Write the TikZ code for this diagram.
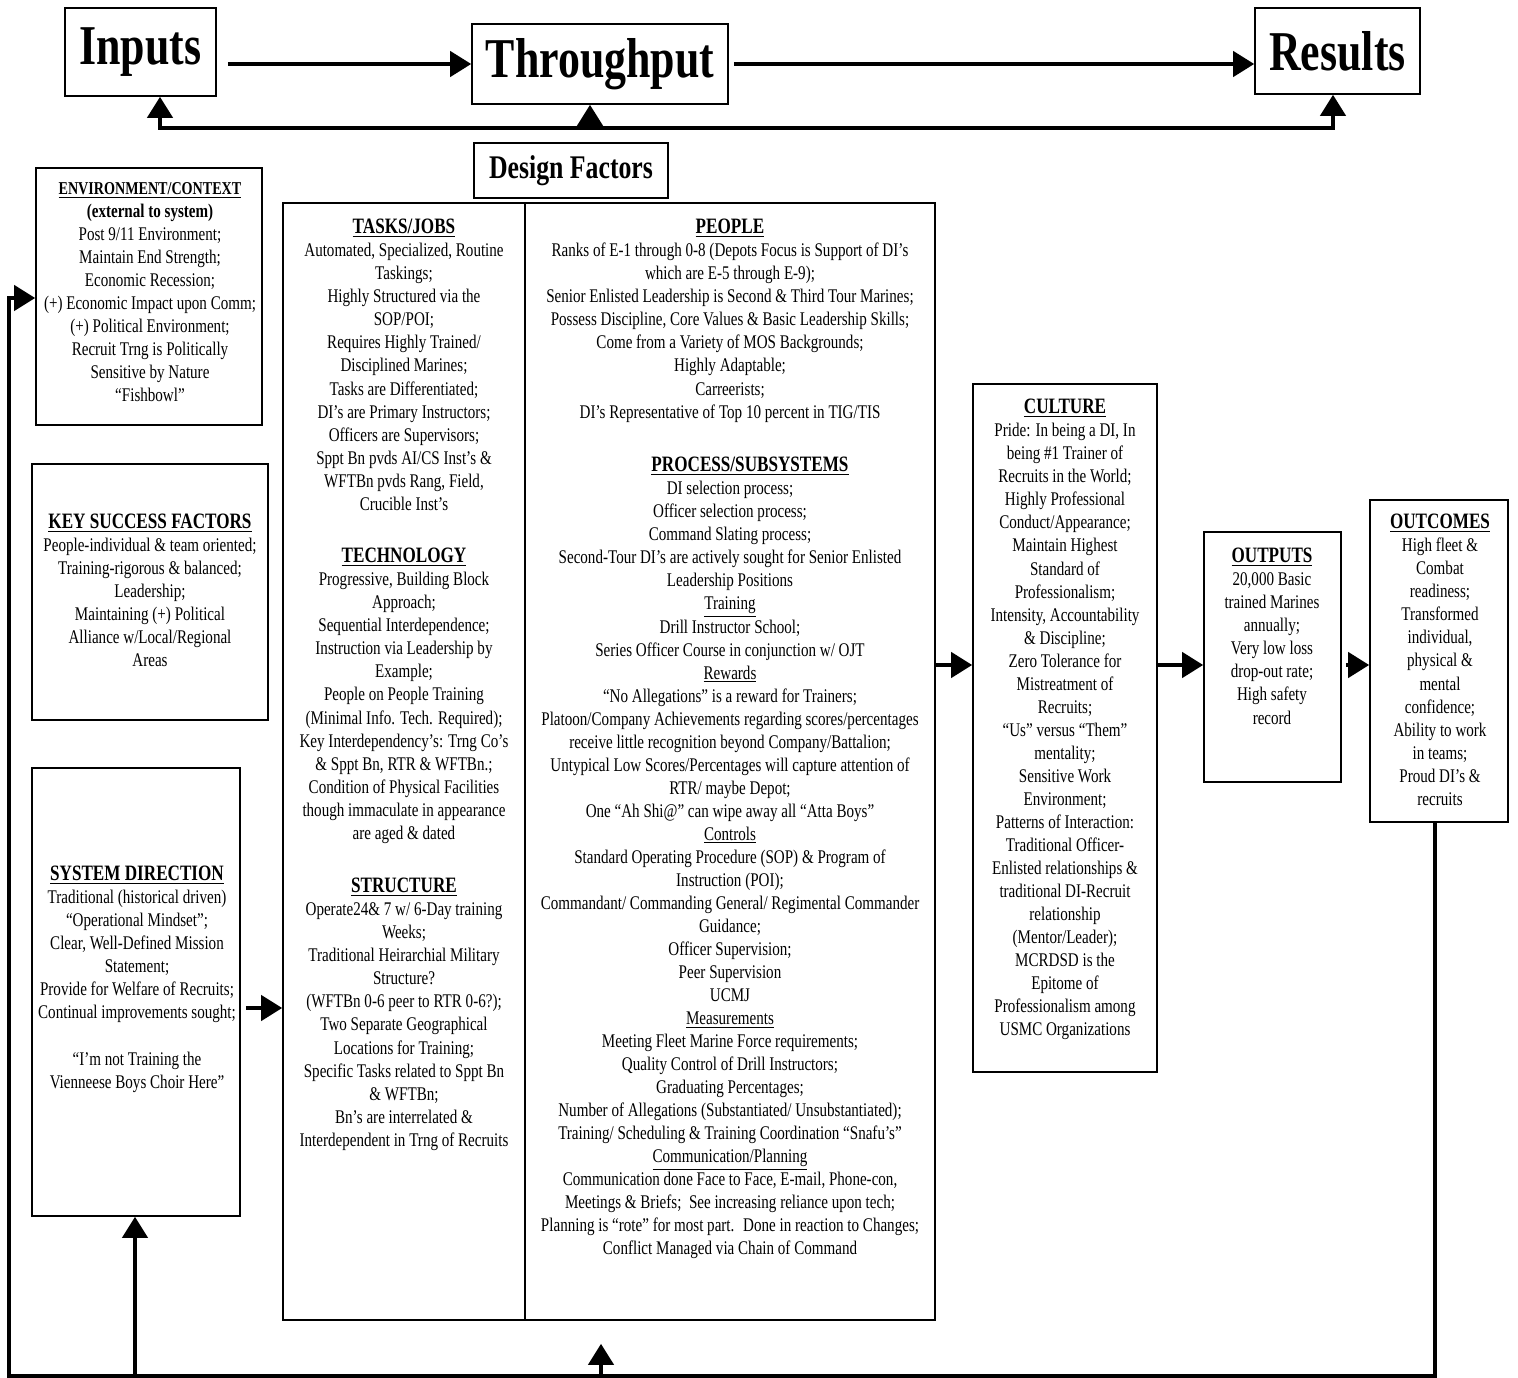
\documentclass[tikz,border=0pt]{standalone}
\usepackage{fontspec}
\setmainfont[FakeStretch=0.78]{Liberation Serif}
\usetikzlibrary{arrows.meta,fit}

\newcommand{\hd}[1]{{\fontsize{12.5}{13.1}\selectfont\bfseries\underline{#1}}}
\newcommand{\subhd}[1]{\underline{#1}}

\begin{document}
\begin{tikzpicture}[x=0.02cm,y=-0.02cm,>={Triangle[length=0.42cm,width=0.5cm]},
    frame/.style={draw,line width=0.9pt,inner sep=0pt},
    title/.style={draw,line width=0.9pt,inner sep=0pt,font=\fontsize{32}{32}\selectfont\bfseries},
    txt/.style={align=center,inner sep=0pt,anchor=north,font=\fontsize{11}{13.1}\selectfont},
    flow/.style={line width=2.3pt}]
\fill[white] (0,0) rectangle (1518,1378);
\useasboundingbox (0,0) rectangle (1518,1378);

% top row
\node[title,minimum width=3.02cm,minimum height=1.76cm] (inputs) at (140.5,52) {Inputs};
\node[title,minimum width=5.12cm,minimum height=1.6cm] (through) at (600,64) {Throughput};
\node[title,minimum width=3.3cm,minimum height=1.72cm] (results) at (1337.5,51) {Results};
\node[frame,minimum width=3.88cm,minimum height=1.1cm,font=\fontsize{18.8}{18.8}\selectfont\bfseries] (design) at (571,170.5) {Design Factors};

% boxes
\node[frame,fit={(36,168) (262,425)}] (env) {};
\node[frame,fit={(32,464) (268,720)}] (ksf) {};
\node[frame,fit={(32,768) (240,1216)}] (sysdir) {};
\node[frame,fit={(283,203) (525,1320)}] (tasks) {};
\node[frame,fit={(525,203) (935,1320)}] (people) {};
\node[frame,fit={(973,384) (1157,1072)}] (culture) {};
\node[frame,fit={(1204,532) (1341,782)}] (outputs) {};
\node[frame,fit={(1370,500) (1508,822)}] (outcomes) {};

% texts
\node[txt] (envtxt) at (150,182) {{\fontsize{10.3}{13.1}\selectfont\bfseries\underline{ENVIRONMENT/CONTEXT}}\\
    {\bfseries (external to system)}\\
    Post 9/11 Environment;\\ Maintain End Strength;\\ Economic Recession;\\
    (+) Economic Impact upon Comm;\\ (+) Political Environment;\\
    Recruit Trng is Politically\\ Sensitive by Nature\\ “Fishbowl”};
\node[txt] (ksftxt) at (150,514) {\hd{KEY SUCCESS FACTORS}\\
    People-individual \& team oriented;\\ Training-rigorous \& balanced;\\
    Leadership;\\ Maintaining (+) Political\\ Alliance w/Local/Regional\\ Areas};
\node[txt] (sysdirtxt) at (137,866) {\hd{SYSTEM DIRECTION}\\
    Traditional (historical driven)\\ “Operational Mindset”;\\
    Clear, Well-Defined Mission\\ Statement;\\ Provide for Welfare of Recruits;\\
    Continual improvements sought;\\[13.1pt]
    “I’m not Training the\\ Vienneese Boys Choir Here”};
\node[txt] (taskstxt) at (404,219) {\hd{TASKS/JOBS}\\
    Automated, Specialized, Routine\\ Taskings;\\ Highly Structured via the\\ SOP/POI;\\
    Requires Highly Trained/\\ Disciplined Marines;\\ Tasks are Differentiated;\\
    DI’s are Primary Instructors;\\ Officers are Supervisors;\\
    Sppt Bn pvds AI/CS Inst’s \&\\ WFTBn pvds Rang, Field,\\ Crucible Inst’s};
\node[txt] (techtxt) at (404,548) {\hd{TECHNOLOGY}\\
    Progressive, Building Block\\ Approach;\\ Sequential Interdependence;\\
    Instruction via Leadership by\\ Example;\\ People on People Training\\
    (Minimal Info. Tech. Required);\\ Key Interdependency’s: Trng Co’s\\
    \& Sppt Bn, RTR \& WFTBn.;\\ Condition of Physical Facilities\\
    though immaculate in appearance\\ are aged \& dated};
\node[txt] (structtxt) at (404,878) {\hd{STRUCTURE}\\
    Operate24\& 7 w/ 6-Day training\\ Weeks;\\ Traditional Heirarchial Military\\
    Structure?\\ (WFTBn 0-6 peer to RTR 0-6?);\\ Two Separate Geographical\\
    Locations for Training;\\ Specific Tasks related to Sppt Bn\\ \& WFTBn;\\
    Bn’s are interrelated \&\\ Interdependent in Trng of Recruits};
\node[txt] (peopletxt) at (730,219) {\hd{PEOPLE}\\
    Ranks of E-1 through 0-8 (Depots Focus is Support of DI’s\\
    which are E-5 through E-9);\\
    Senior Enlisted Leadership is Second \& Third Tour Marines;\\
    Possess Discipline, Core Values \& Basic Leadership Skills;\\
    Come from a Variety of MOS Backgrounds;\\ Highly Adaptable;\\ Carreerists;\\
    DI’s Representative of Top 10 percent in TIG/TIS};
\node[txt] (proctxt) at (730,457) {\hspace*{0.8cm}\hd{PROCESS/SUBSYSTEMS}\\
    DI selection process;\\ Officer selection process;\\ Command Slating process;\\
    Second-Tour DI’s are actively sought for Senior Enlisted\\ Leadership Positions\\
    \subhd{Training}\\ Drill Instructor School;\\ Series Officer Course in conjunction w/ OJT\\
    \subhd{Rewards}\\ “No Allegations” is a reward for Trainers;\\
    Platoon/Company Achievements regarding scores/percentages\\
    receive little recognition beyond Company/Battalion;\\
    Untypical Low Scores/Percentages will capture attention of\\ RTR/ maybe Depot;\\
    One “Ah Shi@” can wipe away all “Atta Boys”\\
    \subhd{Controls}\\ Standard Operating Procedure (SOP) \& Program of\\ Instruction (POI);\\
    Commandant/ Commanding General/ Regimental Commander\\ Guidance;\\
    Officer Supervision;\\ Peer Supervision\\ UCMJ\\
    \subhd{Measurements}\\ Meeting Fleet Marine Force requirements;\\
    Quality Control of Drill Instructors;\\ Graduating Percentages;\\
    Number of Allegations (Substantiated/ Unsubstantiated);\\
    Training/ Scheduling \& Training Coordination “Snafu’s”\\
    \subhd{Communication/Planning}\\ Communication done Face to Face, E-mail, Phone-con,\\
    Meetings \& Briefs;~ See increasing reliance upon tech;\\
    Planning is “rote” for most part.~ Done in reaction to Changes;\\
    Conflict Managed via Chain of Command};
\node[txt] (culturetxt) at (1065,399) {\hd{CULTURE}\\
    Pride: In being a DI, In\\ being \#1 Trainer of\\ Recruits in the World;\\
    Highly Professional\\ Conduct/Appearance;\\ Maintain Highest\\ Standard of\\
    Professionalism;\\ Intensity, Accountability\\ \& Discipline;\\ Zero Tolerance for\\
    Mistreatment of\\ Recruits;\\ “Us” versus “Them”\\ mentality;\\ Sensitive Work\\
    Environment;\\ Patterns of Interaction:\\ Traditional Officer-\\
    Enlisted relationships \&\\ traditional DI-Recruit\\ relationship\\ (Mentor/Leader);\\
    MCRDSD is the\\ Epitome of\\ Professionalism among\\ USMC Organizations};
\node[txt] (outputstxt) at (1272,548) {\hd{OUTPUTS}\\
    20,000 Basic\\ trained Marines\\ annually;\\ Very low loss\\ drop-out rate;\\
    High safety\\ record};
\node[txt] (outcomestxt) at (1440,514) {\hd{OUTCOMES}\\
    High fleet \&\\ Combat\\ readiness;\\ Transformed\\ individual,\\ physical \&\\
    mental\\ confidence;\\ Ability to work\\ in teams;\\ Proud DI’s \&\\ recruits};

% flow
\draw[flow,->,shorten <=0.22cm] (inputs.east |- through.west) -- (through.west);
\draw[flow,->,shorten <=0.1cm] (through.east) -- (through.east -| results.west);
\coordinate (fbL) at (160,128);
\coordinate (fbM) at (590,128);
\coordinate (fbR) at (1333,128);
\draw[flow,<->] (inputs.south -| fbL) -- (fbL) -- (fbR) -- (results.south -| fbR);
\draw[flow,->] (fbM) -- (fbM |- through.south);

\coordinate (mid) at (0,665);
\coordinate (sdy) at (0,1008);
\draw[flow,->] (people.east |- mid) -- (culture.west |- mid);
\draw[flow,->] (culture.east |- mid) -- (outputs.west |- mid);
\draw[flow,->,shorten <=0.08cm] (outputs.east |- mid) -- (outcomes.west |- mid);
\draw[flow,->,shorten <=0.1cm] (sysdir.east |- sdy) -- (tasks.west |- sdy);

% loop back
\coordinate (lpR) at (1435,1376);
\coordinate (lpL) at (9,1376);
\coordinate (lpT) at (9,298);
\coordinate (lpS) at (135,1376);
\coordinate (lpP) at (601,1376);
\draw[flow,->] (outcomes.south -| lpR) -- (lpR) -- (lpL) -- (lpT) -- (env.west |- lpT);
\draw[flow,->] (lpS) -- (lpS |- sysdir.south);
\draw[flow,->,shorten >=0.46cm] (lpP) -- (lpP |- people.south);
\end{tikzpicture}
\end{document}
